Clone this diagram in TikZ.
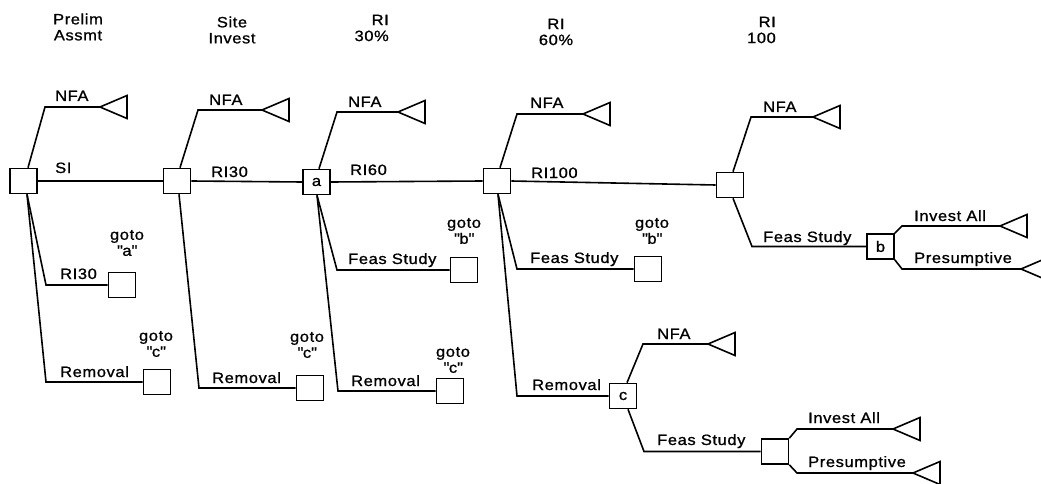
\documentclass[tikz,border=0pt]{standalone}
\usepackage{fontspec}
\setmainfont{Liberation Sans}[FakeStretch=1.1,LetterSpace=4,FakeBold=1]
\newcommand\qq[1]{\textquotedbl#1\textquotedbl}
\begin{document}
\begin{tikzpicture}[x=1pt,y=-1pt,
  every node/.style={font=\fontsize{15}{16}\selectfont},
  lbl/.style={anchor=base west,inner sep=0pt},
  hdr/.style={align=center,inner sep=0pt},
  gotolbl/.style={align=center,inner sep=0pt},
  dbox/.style={draw,line width=1.6pt,minimum width=27pt,minimum height=25pt,inner sep=0pt},
  br/.style={line width=1.6pt},
  term/.pic={\draw[line width=1.6pt,line join=miter] (0,0) -- (27,-11.5) -- (27,11.5) -- cycle;}
]
\useasboundingbox (0,0) rectangle (1041,484);

% headers
\node[hdr] (h1) at (78,27) {Prelim\\Assmt};
\node[hdr] (h2) at (232,30) {Site\\Invest};
\node[hdr,align=right,anchor=east] (h3) at (389,28) {RI\\30\%};
\node[hdr] (h4) at (556,32) {RI\\60\%};
\node[hdr,align=right,anchor=east] (h5) at (776,30) {RI\\100};

% decision boxes
\node[dbox] (n1) at (23.5,181) {};
\node[dbox] (n2) at (177,181) {};
\node[dbox] (na) at (316.5,182) {a};
\node[dbox] (n4) at (497,181) {};
\node[dbox] (n5) at (730,185) {};
\node[dbox] (nb) at (880.5,246.5) {b};
\node[dbox] (nc) at (623,396) {c};
\node[dbox] (nf) at (775,451.5) {};

% goto boxes
\node[dbox] (g1) at (122,285) {};
\node[dbox] (g2) at (157,382) {};
\node[dbox] (g3) at (310,388) {};
\node[dbox] (g4) at (464,270) {};
\node[dbox] (g5) at (450,391) {};
\node[dbox] (g6) at (648,269) {};

% goto labels
\node[gotolbl] (l1) at (127,243) {goto\\\qq{a}};
\node[gotolbl] (l2) at (156,344) {goto\\\qq{c}};
\node[gotolbl] (l3) at (307,345) {goto\\\qq{c}};
\node[gotolbl] (l4) at (464,231) {goto\\\qq{b}};
\node[gotolbl] (l5) at (453,360) {goto\\\qq{c}};
\node[gotolbl] (l6) at (652,231) {goto\\\qq{b}};

% terminal coordinates
\coordinate (t1) at (100,107);
\coordinate (t2) at (262,110);
\coordinate (t3) at (398,112);
\coordinate (t4) at (583,114);
\coordinate (t5) at (813,117);
\coordinate (tc) at (708,344);
\coordinate (tb1) at (1000,226);
\coordinate (tb2) at (1021,269);
\coordinate (tf1) at (893,429);
\coordinate (tf2) at (913,473);
\foreach \t in {t1,t2,t3,t4,t5,tc,tb1,tb2,tf1,tf2} \pic at (\t) {term};

% node 1
\draw[br] ([xshift=4.5pt]n1.north) -- (45,107) -- (t1);
\draw[br] (n1.east) -- (n2.west);
\draw[br] ([xshift=3.5pt]n1.south) -- (46,285) -- (g1.west);
\draw[br] ([xshift=3.5pt]n1.south) -- (46,382) -- (g2.west);
\node[lbl] at (55,101) {NFA};
\node[lbl] at (55,173) {SI};
\node[lbl] at (60,279) {RI30};
\node[lbl] at (60,377) {Removal};

% node 2
\draw[br] ([xshift=3pt]n2.north) -- (198,110) -- (t2);
\draw[br] (n2.east) -- (na.west);
\draw[br] ([xshift=2pt]n2.south) -- (199,388) -- (g3.west);
\node[lbl] at (209,105) {NFA};
\node[lbl] at (211,177) {RI30};
\node[lbl] at (212,383) {Removal};

% node a
\draw[br] ([xshift=2.5pt]na.north) -- (337,112) -- (t3);
\draw[br] (na.east) -- (n4.west);
\draw[br] ([xshift=0.5pt]na.south) -- (337,270) -- (g4.west);
\draw[br] ([xshift=0.5pt]na.south) -- (338,391) -- (g5.west);
\node[lbl] at (348,107) {NFA};
\node[lbl] at (350,175) {RI60};
\node[lbl] at (348,264) {Feas Study};
\node[lbl] at (351,386) {Removal};

% node 4
\draw[br] ([xshift=3pt]n4.north) -- (517,114) -- (t4);
\draw[br] (n4.east) -- (n5.west);
\draw[br] ([xshift=1pt]n4.south) -- (517,269) -- (g6.west);
\draw[br] ([xshift=1pt]n4.south) -- (517,396) -- (nc.west);
\node[lbl] at (530,108) {NFA};
\node[lbl] at (531,178) {RI100};
\node[lbl] at (530,263) {Feas Study};
\node[lbl] at (532,390) {Removal};

% node 5
\draw[br] ([xshift=3pt]n5.north) -- (751,117) -- (t5);
\draw[br] ([xshift=3pt]n5.south) -- (752,246.5) -- (nb.west);
\node[lbl] at (763,112) {NFA};
\node[lbl] at (763,242) {Feas Study};

% node b
\draw[br] (nb.north east) -- (902,226) -- (tb1);
\draw[br] (nb.south east) -- (902,269) -- (tb2);
\node[lbl] at (914,221) {Invest All};
\node[lbl] at (914,263) {Presumptive};

% node c
\draw[br] ([xshift=4pt]nc.north) -- (643,344) -- (tc);
\draw[br] ([xshift=5pt]nc.south) -- (644,451.5) -- (nf.west);
\node[lbl] at (657,339) {NFA};
\node[lbl] at (657,445) {Feas Study};

% node f
\draw[br] (nf.north east) -- (797,429) -- (tf1);
\draw[br] (nf.south east) -- (797,473) -- (tf2);
\node[lbl] at (808,423) {Invest All};
\node[lbl] at (808,467) {Presumptive};
\end{tikzpicture}
\end{document}
